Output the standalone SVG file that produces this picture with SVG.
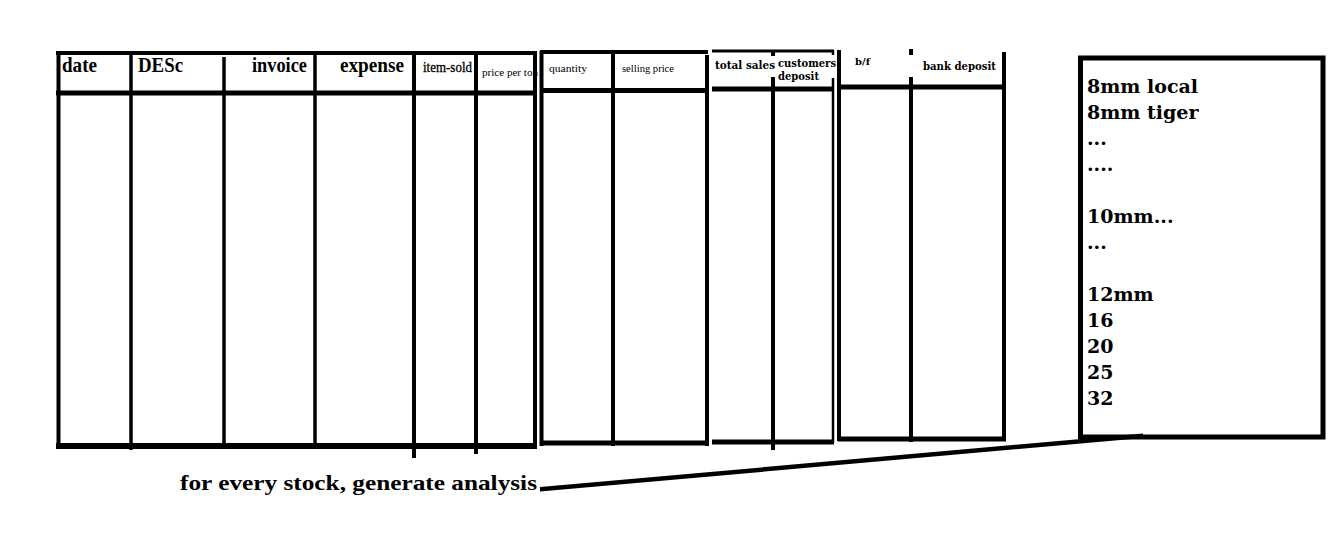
<svg xmlns="http://www.w3.org/2000/svg" width="1341" height="541" viewBox="0 0 1341 541">
<style>
.ln{stroke:#000;stroke-width:4;fill:none;stroke-linecap:butt}
.hd{stroke:#000;stroke-width:5;fill:none}
.th{stroke:#000;stroke-width:2.5;fill:none}
.ts{font-family:"Liberation Serif",serif;font-weight:bold;fill:#000}
.tr{font-family:"Liberation Serif",serif;fill:#000}
.dv{font-family:"DejaVu Serif",serif;font-weight:bold;fill:#000}
</style>
<rect x="0" y="0" width="1341" height="541" fill="#fff"/>
<g id="table-main">
  <line class="ln" x1="56" y1="53" x2="537" y2="53"/>
  <line class="ln" x1="58.5" y1="51" x2="58.5" y2="449"/>
  <line class="ln" x1="535" y1="51" x2="535" y2="449"/>
  <line class="hd" x1="56" y1="93" x2="537" y2="93"/>
  <line class="hd" x1="56" y1="446" x2="537" y2="446" style="stroke-width:6"/>
  <line class="ln" x1="131" y1="53" x2="131" y2="450" style="stroke-width:3.5"/>
  <line class="ln" x1="224" y1="57" x2="224" y2="449" style="stroke-width:3.5"/>
  <line class="ln" x1="315" y1="53" x2="315" y2="449" style="stroke-width:3.5"/>
  <line class="ln" x1="414" y1="53" x2="414" y2="458"/>
  <line class="ln" x1="476" y1="55" x2="476" y2="454"/>
  <text class="ts" x="62" y="72" font-size="22" textLength="35" lengthAdjust="spacingAndGlyphs">date</text>
  <text class="ts" x="138" y="72" font-size="22" textLength="45" lengthAdjust="spacingAndGlyphs">DESc</text>
  <text class="ts" x="252" y="72" font-size="22" textLength="55" lengthAdjust="spacingAndGlyphs">invoice</text>
  <text class="ts" x="340" y="72" font-size="22" textLength="64" lengthAdjust="spacingAndGlyphs">expense</text>
  <text class="tr" x="423" y="72" font-size="14" textLength="49" lengthAdjust="spacingAndGlyphs" style="stroke:#000;stroke-width:0.3">item-sold</text>
  <text class="tr" x="482" y="76" font-size="11" textLength="56" lengthAdjust="spacingAndGlyphs">price per ton</text>
</g>
<g id="table-quantity">
  <line class="ln" x1="541.5" y1="51" x2="541.5" y2="446"/>
  <line class="ln" x1="540" y1="52" x2="708" y2="52"/>
  <line class="hd" x1="540" y1="90.5" x2="708" y2="90.5"/>
  <line class="ln" x1="613" y1="52" x2="613" y2="446"/>
  <line class="ln" x1="707" y1="55" x2="707" y2="446"/>
  <line class="hd" x1="540" y1="443" x2="708" y2="443"/>
  <text class="tr" x="549" y="72" font-size="11" textLength="38" lengthAdjust="spacingAndGlyphs">quantity</text>
  <text class="tr" x="622" y="72" font-size="11" textLength="52" lengthAdjust="spacingAndGlyphs">selling price</text>
</g>
<g id="table-sales">
  <line class="th" x1="712" y1="51" x2="834" y2="51" style="stroke-width:3"/>
  <line class="hd" x1="712" y1="89" x2="834" y2="89"/>
  <line class="ln" x1="773" y1="51" x2="773" y2="56"/>
  <line class="ln" x1="773" y1="77" x2="773" y2="450"/>
  <line class="th" x1="833" y1="50" x2="833" y2="55"/>
  <line class="th" x1="833" y1="78" x2="833" y2="443"/>
  <line class="hd" x1="712" y1="442" x2="834" y2="442"/>
  <text class="dv" x="715" y="69" font-size="11" textLength="60" lengthAdjust="spacingAndGlyphs">total sales</text>
  <text class="dv" x="778" y="67" font-size="11" textLength="58" lengthAdjust="spacingAndGlyphs">customers</text>
  <text class="dv" x="778" y="80" font-size="11" textLength="41" lengthAdjust="spacingAndGlyphs">deposit</text>
</g>
<g id="table-bank">
  <line class="ln" x1="839" y1="50" x2="839" y2="441"/>
  <line class="hd" x1="838" y1="87" x2="1006" y2="87"/>
  <line class="ln" x1="911" y1="49" x2="911" y2="55"/>
  <line class="ln" x1="911" y1="77" x2="911" y2="442"/>
  <line class="ln" x1="1004" y1="52" x2="1004" y2="441"/>
  <line class="hd" x1="838" y1="439" x2="1006" y2="439"/>
  <text class="dv" x="855" y="65" font-size="10" textLength="15" lengthAdjust="spacingAndGlyphs">b/f</text>
  <text class="dv" x="923" y="70" font-size="11" textLength="73" lengthAdjust="spacingAndGlyphs">bank deposit</text>
</g>
<g id="stock-list">
  <rect x="1080.5" y="58" width="242.5" height="379" fill="none" stroke="#000" stroke-width="5"/>
  <text class="dv" font-size="19">
    <tspan x="1087" y="93">8mm local</tspan>
    <tspan x="1087" y="119">8mm tiger</tspan>
    <tspan x="1087" y="145">...</tspan>
    <tspan x="1087" y="171">....</tspan>
    <tspan x="1087" y="223">10mm...</tspan>
    <tspan x="1087" y="249">...</tspan>
    <tspan x="1087" y="301">12mm</tspan>
    <tspan x="1087" y="327">16</tspan>
    <tspan x="1087" y="353">20</tspan>
    <tspan x="1087" y="379">25</tspan>
    <tspan x="1087" y="405">32</tspan>
  </text>
</g>
<g id="note">
  <text class="ts" x="180" y="490" font-size="21" textLength="357" lengthAdjust="spacingAndGlyphs">for every stock, generate analysis</text>
</g>
<g id="connectors">
  <polygon points="540,487 1143,433.5 1143,438 540,491.5" fill="#000"/>
</g>
</svg>
